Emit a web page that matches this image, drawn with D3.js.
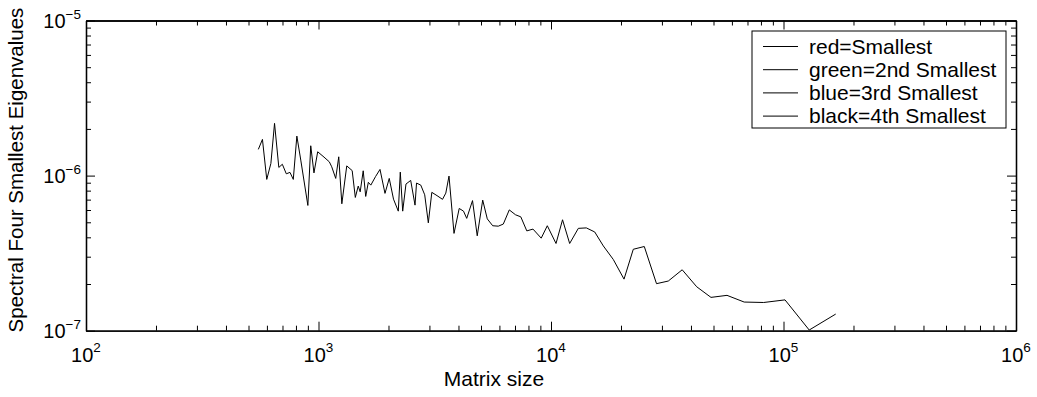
<!DOCTYPE html>
<html>
<head>
<meta charset="utf-8">
<script src="https://cdn.jsdelivr.net/npm/d3@7"></script>
<style>
  body { margin: 0; background: #fff; }
  svg text { font-family: "Liberation Sans", Arial, Helvetica, sans-serif; fill: #000; }
</style>
</head>
<body>
<svg width="1037" height="397"></svg>
<script>
// matrix sizes (x) and eigenvalue (y)
const matrixSize = [551, 574, 599, 624, 647, 675, 699, 727, 754, 779, 807, 839, 900, 926, 956, 992,
  1056, 1113, 1140, 1186, 1222, 1260, 1323, 1396, 1440, 1482, 1511, 1557, 1596, 1638, 1679, 1759,
  1839, 1932, 2015, 2102, 2204, 2248, 2302, 2378, 2492, 2601, 2640, 2754, 2863, 2967, 3072, 3234,
  3415, 3528, 3642, 3827, 4029, 4205, 4340, 4597, 4816, 5085, 5321, 5613, 5933, 6235, 6616, 7036,
  7415, 7869, 8367, 9076, 9640, 10510, 11210, 12030, 13110, 14190, 15420, 16790, 18530, 20610,
  22590, 25190, 28430, 31950, 36670, 42330, 48770, 57150, 67760, 82180, 101500, 129000, 167700];

const eigenvalue = [1.476e-6, 1.712e-6, 0.945e-6, 1.198e-6, 2.172e-6, 1.129e-6, 1.183e-6, 1.027e-6,
  1.049e-6, 0.945e-6, 1.798e-6, 1.259e-6, 0.642e-6, 1.557e-6, 1.041e-6, 1.424e-6,
  1.316e-6, 1.227e-6, 1.140e-6, 0.959e-6, 1.322e-6, 0.658e-6, 1.155e-6, 1.077e-6, 0.723e-6, 0.856e-6,
  0.786e-6, 1.074e-6, 0.734e-6, 0.905e-6, 0.868e-6, 0.985e-6,
  1.096e-6, 0.768e-6, 0.959e-6, 0.705e-6, 0.590e-6, 1.053e-6, 0.590e-6, 0.882e-6, 0.931e-6, 0.645e-6,
  0.895e-6, 0.868e-6, 0.752e-6, 0.496e-6, 0.780e-6, 0.743e-6,
  0.703e-6, 0.771e-6, 0.993e-6, 0.424e-6, 0.614e-6, 0.590e-6, 0.530e-6, 0.690e-6, 0.409e-6, 0.695e-6,
  0.526e-6, 0.475e-6, 0.472e-6, 0.487e-6, 0.601e-6, 0.559e-6,
  0.542e-6, 0.440e-6, 0.452e-6, 0.395e-6, 0.475e-6, 0.365e-6, 0.519e-6, 0.365e-6, 0.457e-6, 0.460e-6,
  0.433e-6, 0.352e-6, 0.288e-6, 0.215e-6,
  0.335e-6, 0.349e-6, 0.201e-6, 0.209e-6, 0.247e-6, 0.192e-6, 0.164e-6, 0.169e-6, 0.153e-6, 0.152e-6,
  0.158e-6, 0.101e-6, 0.128e-6];

const legendLabels = ["red=Smallest", "green=2nd Smallest", "blue=3rd Smallest", "black=4th Smallest"];
const xExponents = [2, 3, 4, 5, 6];
const yExponents = [-7, -6, -5];

const svg = d3.select("svg");
const plotLeft = 86, plotRight = 1016, plotTop = 20.5, plotBottom = 330.7;

const x = d3.scaleLog().domain([1e2, 1e6]).range([plotLeft, plotRight]);
const y = d3.scaleLog().domain([1e-7, 1e-5]).range([plotBottom, plotTop]);

// major and minor tick values
const xMajor = xExponents.map(e => Math.pow(10, e));
const yMajor = yExponents.map(e => Math.pow(10, e));
function minors(exps) {
  const out = [];
  exps.slice(0, -1).forEach(e => {
    for (let k = 2; k <= 9; k++) out.push(k * Math.pow(10, e));
  });
  return out;
}
const xMinor = minors(xExponents);
const yMinor = minors(yExponents);

// axes on all four sides, ticks pointing inward
function addAxis(axisFn, scale, vals, size, transform) {
  svg.append("g")
    .attr("transform", transform)
    .call(axisFn(scale).tickValues(vals).tickSizeInner(-size).tickSizeOuter(0).tickFormat(""))
    .call(g => g.selectAll("line").attr("stroke", "#000").attr("stroke-width", 1))
    .call(g => g.select(".domain").attr("stroke", "#000").attr("stroke-width", 1.3));
}
addAxis(d3.axisBottom, x, xMajor, 9, `translate(0,${plotBottom})`);
addAxis(d3.axisBottom, x, xMinor, 5, `translate(0,${plotBottom})`);
addAxis(d3.axisTop, x, xMajor, 9, `translate(0,${plotTop})`);
addAxis(d3.axisTop, x, xMinor, 5, `translate(0,${plotTop})`);
addAxis(d3.axisLeft, y, yMajor, 9, `translate(${plotLeft},0)`);
addAxis(d3.axisLeft, y, yMinor, 5, `translate(${plotLeft},0)`);
addAxis(d3.axisRight, y, yMajor, 9, `translate(${plotRight},0)`);
addAxis(d3.axisRight, y, yMinor, 5, `translate(${plotRight},0)`);

// tick labels as 10^n
xExponents.forEach(e => {
  const t = svg.append("text")
    .attr("x", x(Math.pow(10, e)))
    .attr("y", plotBottom + 31)
    .attr("text-anchor", "middle")
    .style("font-size", "20px");
  t.append("tspan").text("10");
  t.append("tspan").attr("dy", -9.5).style("font-size", "13.5px").text(e);
});
yExponents.forEach(e => {
  const t = svg.append("text")
    .attr("x", plotLeft - 5)
    .attr("y", y(Math.pow(10, e)) + 7.5)
    .attr("text-anchor", "end")
    .style("font-size", "20px");
  t.append("tspan").text("10");
  t.append("tspan").attr("dy", -9.5).style("font-size", "13.5px").text("\u2212" + Math.abs(e));
});

// the data line
const data = matrixSize.map((m, i) => [m, eigenvalue[i]]);
svg.append("path")
  .datum(data)
  .attr("fill", "none")
  .attr("stroke", "#000")
  .attr("stroke-width", 1)
  .attr("d", d3.line().x(d => x(d[0])).y(d => y(d[1])));

// axis titles
svg.append("text")
  .attr("x", 494)
  .attr("y", 386)
  .attr("text-anchor", "middle")
  .style("font-size", "21px")
  .text("Matrix size");

svg.append("text")
  .attr("transform", "rotate(-90)")
  .attr("x", -170)
  .attr("y", 23)
  .attr("text-anchor", "middle")
  .style("font-size", "20.5px")
  .text("Spectral Four Smallest Eigenvalues");

// legend
const legend = svg.append("g").attr("transform", "translate(752,31)");
legend.append("rect")
  .attr("width", 254).attr("height", 97)
  .attr("fill", "#fff").attr("stroke", "#000").attr("stroke-width", 1);
legendLabels.forEach((label, i) => {
  const cy = 15.5 + i * 23.2;
  legend.append("line")
    .attr("x1", 11).attr("x2", 46).attr("y1", cy).attr("y2", cy)
    .attr("stroke", "#000").attr("stroke-width", 1);
  legend.append("text")
    .attr("x", 57).attr("y", cy + 7)
    .style("font-size", "21px")
    .text(label);
});
</script>
</body>
</html>
